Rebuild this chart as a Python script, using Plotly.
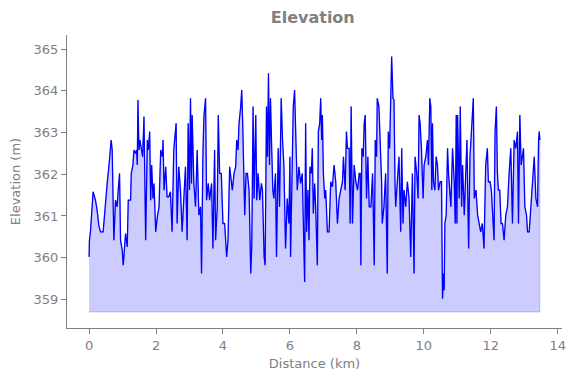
import plotly.graph_objects as go

# Distance (km) and elevation (m), in segments
dist_a = [0.00,0.01,0.04,0.12,0.19,0.24,0.29,0.34,0.42,0.49,
          0.54,0.59,0.66,0.69,0.74,0.79,0.84,0.87,0.91,0.94,
          0.99,1.02,1.06,1.09,1.14,1.17,1.24,1.26,1.31,1.34,
          1.39,1.42,1.44,1.46,1.49,1.52,1.56,1.60,1.64,1.69,
          1.74,1.77,1.81,1.84,1.87,1.91,1.94,1.99,2.04,2.09]
elev_a = [360.02,360.42,360.62,361.58,361.38,361.14,360.78,360.62,360.62,361.38,
          361.78,362.18,362.82,362.58,360.42,361.38,361.22,361.62,362.02,360.42,
          360.18,359.82,360.18,360.58,360.26,361.38,361.38,362.02,362.22,362.58,
          362.50,362.58,362.22,363.78,362.58,362.82,362.62,362.42,363.38,360.42,
          362.82,362.58,363.02,361.38,362.22,361.42,361.78,360.62,360.98,361.22]

dist_b = [2.14,2.19,2.21,2.24,2.29,2.33,2.38,2.43,2.48,2.53,
          2.60,2.63,2.68,2.73,2.78,2.83,2.88,2.93,2.96,3.00,
          3.03,3.06,3.08,3.13,3.18,3.23,3.28,3.33,3.36,3.40,
          3.43,3.48,3.51,3.56,3.60,3.66,3.70,3.75,3.78,3.83,
          3.86,3.90,3.95,4.00,4.05,4.08,4.11,4.15,4.20]
elev_b = [362.58,362.42,362.82,361.62,362.18,361.46,361.46,361.58,360.62,362.58,
          363.22,360.82,362.18,361.62,360.62,361.62,362.18,360.42,363.22,361.62,
          363.82,361.78,363.42,361.78,361.22,362.58,361.02,361.22,359.62,362.42,
          363.38,363.82,361.38,361.78,361.38,361.78,360.22,362.58,360.42,361.22,
          363.42,362.02,362.02,360.82,360.82,360.42,360.02,360.42,362.18]

dist_c = [4.28,4.33,4.38,4.41,4.45,4.48,4.53,4.56,4.59,4.61,
          4.65,4.69,4.73,4.78,4.81,4.83,4.86,4.90,4.93,4.98,
          5.01,5.05,5.10,5.15,5.18,5.23,5.26,5.30,5.33,5.36,
          5.39,5.42,5.45,5.49,5.52,5.57,5.60,5.65,5.69,5.74,
          5.78,5.82,5.87,5.92,5.97,6.00,6.02,6.07,6.10,6.14,
          6.18,6.22,6.27,6.32,6.37,6.40,6.44]
elev_c = [361.62,362.02,362.18,362.82,362.58,363.22,363.62,364.02,363.22,362.22,
          361.02,362.02,362.02,361.62,360.58,359.62,360.26,363.62,361.42,363.42,
          361.38,362.02,361.38,361.78,361.62,360.02,359.82,363.62,362.42,364.42,
          362.22,363.82,362.82,361.62,361.42,362.02,360.02,362.62,361.22,363.82,
          362.82,362.22,360.22,361.42,360.82,362.42,360.02,362.62,363.62,364.02,
          362.82,361.62,362.18,361.78,362.02,360.82,359.42]

dist_d = [6.47,6.50,6.54,6.57,6.60,6.64,6.67,6.70,6.74,6.77,
          6.82,6.85,6.89,6.92,6.95,6.97,7.00,7.04,7.07,7.12,
          7.17,7.22,7.27,7.32,7.37,7.42,7.47,7.52,7.57,7.60,
          7.65,7.69,7.72,7.77,7.80,7.83,7.87,7.92,7.97,8.02,
          8.07,8.10,8.12,8.15,8.19,8.22,8.25,8.29,8.33,8.37,
          8.42,8.47,8.52,8.55,8.59,8.61,8.66]
elev_d = [363.22,360.62,361.62,360.42,362.18,362.02,362.62,361.06,361.78,361.22,
          359.82,363.02,363.22,363.82,362.82,363.42,362.02,361.42,361.62,360.62,
          360.62,361.82,361.70,362.22,361.82,360.82,361.42,361.62,361.82,362.42,
          361.62,363.02,362.62,362.62,360.82,363.62,360.82,362.22,361.82,361.62,
          362.02,362.02,359.82,362.62,362.42,363.22,363.42,361.42,362.42,361.22,
          361.22,362.02,359.82,362.82,362.42,363.82,363.62]

dist_e = [8.74,8.76,8.81,8.86,8.91,8.94,8.98,9.01,9.04,9.08,
          9.11,9.14,9.16,9.21,9.26,9.31,9.34,9.38,9.41,9.46,
          9.51,9.56,9.61,9.66,9.71,9.74,9.79,9.83,9.86,9.89,
          9.93,9.98,10.01,10.06,10.11,10.14,10.18,10.21,10.24,10.26,
          10.29,10.33,10.37,10.41,10.44,10.49,10.53,10.56,10.59,10.61,
          10.63,10.67,10.71,10.74,10.78,10.81,10.86,10.91,10.94,10.97]
elev_e = [361.82,360.82,361.22,362.02,359.62,363.02,362.62,363.62,364.82,363.82,
          363.78,361.82,361.22,361.82,362.42,360.62,362.62,360.82,361.62,361.22,
          361.82,361.42,360.02,362.02,359.62,362.42,362.02,361.42,363.42,363.22,
          362.62,361.42,362.22,362.42,362.82,362.22,363.82,363.62,361.62,363.22,
          361.82,361.62,362.42,362.22,361.62,361.82,361.82,359.02,359.62,359.22,
          360.82,361.02,362.62,362.02,361.42,361.22,362.62,361.82,360.82,363.42]

dist_f = [10.99,11.01,11.06,11.09,11.13,11.16,11.21,11.26,11.29,11.34,
          11.38,11.41,11.44,11.48,11.51,11.56,11.61,11.65,11.70,11.75,
          11.80,11.85,11.90,11.93,11.98,12.02,12.07,12.10,12.13,12.17,
          12.20,12.23,12.27,12.31,12.35,12.40,12.45,12.50,12.55,12.60,
          12.65,12.70,12.75,12.80,12.83,12.87,12.91,12.95,12.98,13.02,
          13.07,13.10,13.15,13.20,13.25,13.30,13.35,13.40,13.43,13.45,
          13.47]
elev_f = [360.82,363.42,361.42,363.62,361.22,362.22,361.02,362.42,362.82,360.22,
          362.42,362.82,363.42,363.82,361.42,361.62,361.02,360.82,360.62,360.82,
          360.22,362.22,362.62,361.82,361.82,361.62,360.62,360.42,363.02,363.62,
          362.02,361.62,361.62,360.82,360.82,360.42,361.02,361.22,362.02,362.62,
          360.82,362.82,362.62,363.02,360.82,363.42,362.22,362.42,362.62,361.22,
          361.02,360.62,360.62,361.22,361.82,362.42,361.42,361.22,362.82,363.02,
          362.82]

fill_base = 358.7
x_ticks = [0, 2, 4, 6, 8, 10, 12, 14]
y_ticks = [359, 360, 361, 362, 363, 364, 365]

distance = dist_a + dist_b + dist_c + dist_d + dist_e + dist_f
elevation = elev_a + elev_b + elev_c + elev_d + elev_e + elev_f

gray = "#808080"
font = "DejaVu Sans"

fig = go.Figure()
fig.add_trace(go.Scatter(
    x=distance + [distance[-1], distance[0]],
    y=elevation + [fill_base, fill_base],
    fill="toself", fillcolor="rgba(0,0,255,0.2)",
    line=dict(color="rgba(0,0,255,0.2)", width=1),
    mode="lines", hoverinfo="skip", showlegend=False))
fig.add_trace(go.Scatter(
    x=distance, y=elevation, mode="lines",
    line=dict(color="#0000ff", width=1.3), showlegend=False))

axis_common = dict(
    showgrid=False, zeroline=False, showline=True, linecolor=gray, linewidth=1,
    ticks="outside", ticklen=5, tickwidth=1, tickcolor=gray, automargin=False,
    tickfont=dict(family=font, size=13, color=gray), mirror=False)

fig.update_layout(
    width=575, height=378,
    margin=dict(l=59, r=21, t=27, b=58),
    paper_bgcolor="white", plot_bgcolor="white",
    title=dict(text="<b>Elevation</b>", x=0.530, xanchor="center", y=0.974, yanchor="middle",
               font=dict(family=font, size=16, color=gray)),
    xaxis=dict(range=[-0.66, 14.13], tickvals=x_ticks,
               title=dict(text="Distance (km)", font=dict(family=font, size=13, color=gray), standoff=7),
               **axis_common),
    yaxis=dict(range=[358.316, 365.336], tickvals=y_ticks,
               title=dict(text="Elevation (m)", font=dict(family=font, size=13, color=gray), standoff=10),
               **axis_common),
)

fig.write_html("out.html")
